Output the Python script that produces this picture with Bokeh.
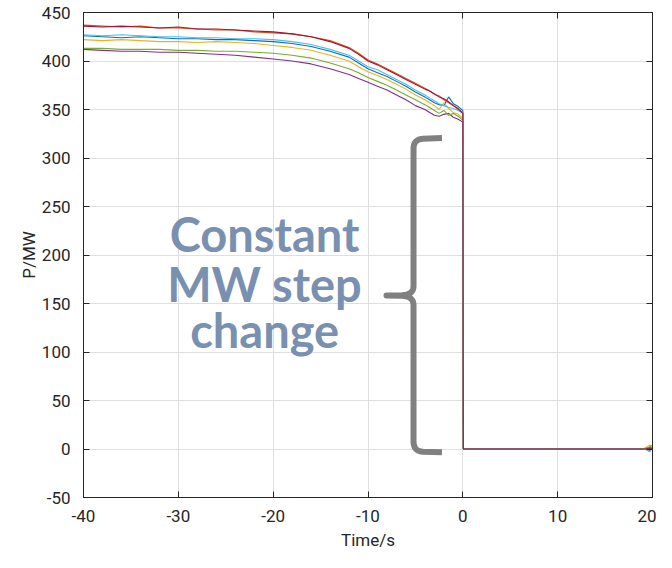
import numpy as np
from bokeh.plotting import figure
from bokeh.models import (Range1d, SingleIntervalTicker, LinearAxis, ColumnDataSource,
                          NumeralTickFormatter)
from bokeh.core.properties import value
from bokeh.embed import file_html
from bokeh.resources import INLINE

# ---- data ----
t = [-40, -38, -36, -34, -32, -30, -28, -26, -24, -22, -20, -18, -16, -14, -12,
     -11, -10, -9, -8, -7, -6, -5, -4,
     -3.5, -3, -2.5, -2, -1.5, -1, -0.5, 0,
     0.05, 10, 19, 19.4, 19.7, 20]

p_blue = [426, 425, 424, 425, 424, 423, 423, 422, 422, 421, 420, 418, 415, 410, 404,
          398, 392, 388, 384, 379, 374, 368, 363,
          360, 357, 355, 354, 363, 356, 353, 349,
          0, 0, 0, 1, -2, 1]
p_orange = [437, 436, 435, 436, 434, 434, 433, 432, 432, 430, 429, 428, 425, 421, 414,
            408, 401, 397, 392, 387, 382, 377, 372,
            369, 366, 364, 360, 357, 354, 350, 347,
            0, 0, 0, 1, 2, 1]
p_yellow = [422, 421, 422, 421, 420, 420, 419, 420, 419, 418, 416, 414, 411, 406, 400,
            394, 389, 385, 381, 376, 371, 365, 360,
            357, 354, 350, 357, 351, 347, 345, 341,
            0, 0, 0, 2, 4, 3]
p_purple = [412, 411, 410, 410, 409, 409, 408, 407, 406, 404, 402, 400, 397, 392, 386,
            382, 378, 374, 370, 365, 360, 354, 350,
            347, 344, 343, 345, 346, 342, 340, 337,
            0, 0, 0, 0, 1, 0]
p_green = [413, 413, 412, 412, 412, 411, 411, 410, 410, 409, 408, 406, 403, 398, 392,
           388, 383, 379, 375, 370, 365, 360, 355,
           352, 349, 346, 349, 344, 346, 343, 339,
           0, 0, 0, 1, 2, 4]
p_lightblue = [427, 426, 427, 426, 425, 425, 424, 424, 423, 423, 422, 420, 417, 412, 406,
               400, 394, 391, 386, 381, 376, 370, 365,
               362, 359, 356, 354, 352, 351, 349, 346,
               0, 0, 0, -1, -3, 2]
p_darkred = [436, 435, 436, 435, 434, 435, 433, 433, 432, 431, 430, 428, 425, 420, 413,
             407, 400, 396, 391, 386, 381, 376, 371,
             369, 366, 363, 361, 358, 354, 351, 346,
             0, 0, 0, 0, 1, 0]

series = [p_blue, p_orange, p_yellow, p_purple, p_green, p_lightblue, p_darkred]
colors = ["#0072bd", "#d95319", "#edb120", "#7e2f8e", "#77ac30", "#4dbeee", "#a2142f"]

x_ticks_interval = 10
y_ticks_interval = 50

annot_lines = ["Constant", "MW step", "change"]

# ---- figure ----
p = figure(width=656, height=552, output_backend="svg", toolbar_location=None,
           x_range=Range1d(-40, 20), y_range=Range1d(-50, 450),
           min_border_left=83, min_border_right=3, min_border_top=12, min_border_bottom=54)
p.background_fill_color = "white"
p.border_fill_color = "white"
p.outline_line_color = "#262626"
p.outline_line_width = 1

axcol = "#262626"
fnt = "Roboto"

def style_axis(ax, show_labels=True):
    ax.axis_line_color = axcol
    ax.major_tick_line_color = axcol
    ax.major_tick_in = 6
    ax.major_tick_out = 0
    ax.minor_tick_line_color = None
    ax.major_label_text_color = axcol
    ax.major_label_text_font = fnt
    ax.major_label_text_font_size = "17px" if show_labels else "0px"
    ax.major_label_standoff = 8 if show_labels else 0
    ax.axis_label_text_font = fnt
    ax.axis_label_text_font_size = "17px"
    ax.axis_label_text_font_style = "normal"
    ax.axis_label_text_color = axcol

p.xaxis.ticker = SingleIntervalTicker(interval=x_ticks_interval)
p.yaxis.ticker = SingleIntervalTicker(interval=y_ticks_interval)
style_axis(p.xaxis[0])
style_axis(p.yaxis[0])
p.xaxis[0].formatter = NumeralTickFormatter(format="0")
p.yaxis[0].formatter = NumeralTickFormatter(format="0")
p.xaxis.axis_label = "Time/s"
p.yaxis.axis_label = "P/MW"
p.xaxis[0].major_label_standoff = 8
p.xaxis.axis_label_standoff = 5
p.yaxis[0].major_label_standoff = 9
p.yaxis.axis_label_standoff = 0

top = LinearAxis(ticker=SingleIntervalTicker(interval=x_ticks_interval))
style_axis(top, False)
p.add_layout(top, "above")
right = LinearAxis(ticker=SingleIntervalTicker(interval=y_ticks_interval))
style_axis(right, False)
p.add_layout(right, "right")

p.xgrid.ticker = SingleIntervalTicker(interval=x_ticks_interval)
p.ygrid.ticker = SingleIntervalTicker(interval=y_ticks_interval)
p.xgrid.grid_line_color = "#dfdfdf"
p.ygrid.grid_line_color = "#dfdfdf"
p.xgrid.grid_line_width = 1
p.ygrid.grid_line_width = 1

for s, c in zip(series, colors):
    p.line(t, s, line_color=c, line_width=1.1)

# ---- curly brace annotation (decoration, in data units) ----
def quad(p0, c, p1, n=12):
    u = np.linspace(0, 1, n)[:, None]
    a, b, d = np.array(p0), np.array(c), np.array(p1)
    return ((1 - u) ** 2) * a + 2 * (1 - u) * u * b + (u ** 2) * d

xv = -5.2
xe = -2.2
xt = -8.05
yt = 320.5
yb = -3.0
yc = 158.0
segs = [
    np.array([[xe, yt], [xv + 1.0, yt - 0.7]]),
    quad((xv + 1.0, yt - 0.7), (xv, yt - 1.1), (xv, yt - 11)),
    np.array([[xv, yt - 11], [xv, yc + 10]]),
    quad((xv, yc + 10), (xv, yc + 1), (xv - 1.2, yc + 0.5)),
    np.array([[xv - 1.2, yc + 0.5], [xt, yc + 0.2]]),
    np.array([[xt, yc + 0.2], [xv - 1.2, yc - 0.1]]),
    quad((xv - 1.2, yc - 0.1), (xv, yc - 0.5), (xv, yc - 10)),
    np.array([[xv, yc - 10], [xv, yb + 11]]),
    quad((xv, yb + 11), (xv, yb + 0.6), (xv + 1.0, yb + 0.2)),
    np.array([[xv + 1.0, yb + 0.2], [xe, yb - 0.3]]),
]
path = np.vstack(segs)
p.line(path[:, 0], path[:, 1], line_color="#808080", line_width=6,
       line_join="round", line_cap="butt")

# ---- text annotation ----
txt_src = ColumnDataSource(dict(x=[-20.9, -20.9, -20.9], y=[221.5, 170.5, 123.0], text=annot_lines))
p.text(x="x", y="y", text="text", source=txt_src, text_align="center",
       text_baseline="alphabetic", text_font=value("Lato"), text_font_style="bold",
       text_font_size="47px", text_color="#7990b0")

open("out.html", "w").write(file_html(p, INLINE))
